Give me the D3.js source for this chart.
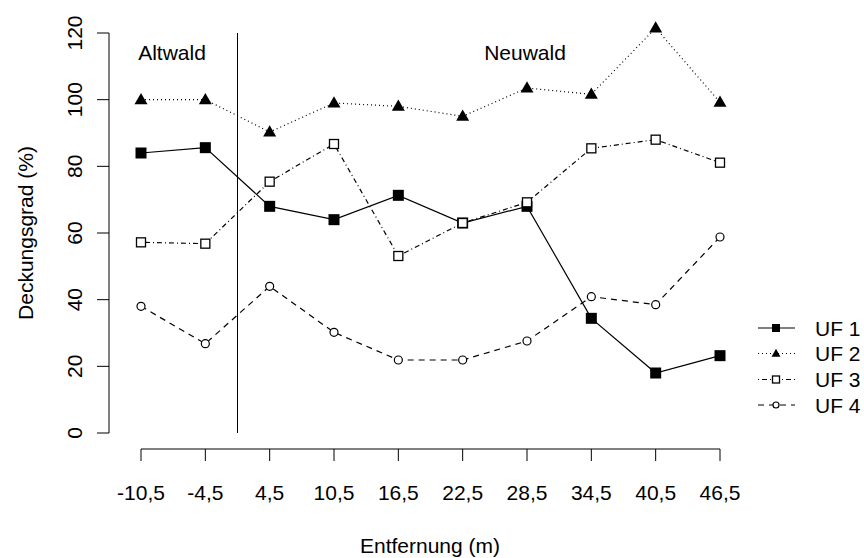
<!DOCTYPE html>
<html>
<head>
<meta charset="utf-8">
<script src="https://cdn.jsdelivr.net/npm/d3@7"></script>
<style>
body{margin:0;background:#fff;}
text{font-family:"Liberation Sans",Arial,sans-serif;fill:#000;}
</style>
</head>
<body>
<div class="chart"></div>
<script>
// Daten
var entfernung=["-10,5","-4,5","4,5","10,5","16,5","22,5","28,5","34,5","40,5","46,5"];
var uf1=[84,85.6,68,64,71.3,63,68,34.4,18,23.2];
var uf2=[100,100,90.3,99,98,95,103.5,101.6,121.5,99.2];
var uf3=[57.2,56.8,75.4,86.7,53.1,63,69.2,85.4,88,81.1];
var uf4=[38,26.8,44,30.2,21.9,21.9,27.6,40.9,38.5,58.8];
var yTicks=[0,20,40,60,80,100,120];
var serien=["UF 1","UF 2","UF 3","UF 4"];

var width=864;
var height=558;
var svg=d3.select('div.chart')
		.append('svg')
		.attr('width',width)
		.attr('height',height);

var xScale=d3.scalePoint()
		.domain(entfernung)
		.range([141,720]);
var yScale=d3.scaleLinear()
		.domain([0,120])
		.range([433,33]);

// y-Achse
svg.append('line')
	.attr('x1',109).attr('x2',109)
	.attr('y1',yScale(0)).attr('y2',yScale(120))
	.attr('stroke','#000');
svg.selectAll('.ytick')
	.data(yTicks)
	.enter()
	.append('line')
	.attr('x1',97).attr('x2',109)
	.attr('y1',d=>yScale(d)).attr('y2',d=>yScale(d))
	.attr('stroke','#000');
svg.selectAll('.ylab')
	.data(yTicks)
	.enter()
	.append('text')
	.attr('transform',d=>'translate(82,'+yScale(d)+') rotate(-90)')
	.attr('text-anchor','middle')
	.attr('font-size','21px')
	.text(d=>d);

// x-Achse
svg.append('line')
	.attr('x1',xScale(entfernung[0])).attr('x2',xScale(entfernung[entfernung.length-1]))
	.attr('y1',449).attr('y2',449)
	.attr('stroke','#000');
svg.selectAll('.xtick')
	.data(entfernung)
	.enter()
	.append('line')
	.attr('x1',d=>xScale(d)).attr('x2',d=>xScale(d))
	.attr('y1',449).attr('y2',461)
	.attr('stroke','#000');
svg.selectAll('.xlab')
	.data(entfernung)
	.enter()
	.append('text')
	.attr('x',d=>xScale(d))
	.attr('y',500)
	.attr('text-anchor','middle')
	.attr('font-size','21px')
	.text(d=>d);

// Achsentitel
svg.append('text')
	.attr('x',430)
	.attr('y',553)
	.attr('text-anchor','middle')
	.attr('font-size','21px')
	.text('Entfernung (m)');
svg.append('text')
	.attr('transform','translate(33,233) rotate(-90)')
	.attr('text-anchor','middle')
	.attr('font-size','21px')
	.text('Deckungsgrad (%)');

// Trennlinie Altwald / Neuwald
var step=xScale.step();
svg.append('line')
	.attr('x1',xScale("-4,5")+step/2).attr('x2',xScale("-4,5")+step/2)
	.attr('y1',yScale(120)).attr('y2',yScale(0))
	.attr('stroke','#000');
svg.append('text')
	.attr('x',172).attr('y',60)
	.attr('text-anchor','middle')
	.attr('font-size','21px')
	.text('Altwald');
svg.append('text')
	.attr('x',525).attr('y',60)
	.attr('text-anchor','middle')
	.attr('font-size','21px')
	.text('Neuwald');

var daten=[uf1,uf2,uf3,uf4];
var dash=[null,'1,3','1,3,5,3','6,5'];
var line=d3.line()
	.x((d,i)=>xScale(entfernung[i]))
	.y(d=>yScale(d));

daten.forEach(function(werte,k){
	svg.append('path')
		.attr('d',line(werte))
		.attr('fill','none')
		.attr('stroke','#000')
		.attr('stroke-width',1.2)
		.attr('stroke-dasharray',dash[k]);
});

function marker(g,k,x,y,s){
	if(k==0){
		g.append('rect').attr('x',x-s/2).attr('y',y-s/2).attr('width',s).attr('height',s).attr('fill','#000');
	}else if(k==1){
		var h=s*0.87;
		g.append('path').attr('d','M'+x+','+(y-h*0.6)+'L'+(x+s/2)+','+(y+h*0.4)+'L'+(x-s/2)+','+(y+h*0.4)+'Z').attr('fill','#000');
	}else if(k==2){
		g.append('rect').attr('x',x-s/2).attr('y',y-s/2).attr('width',s).attr('height',s).attr('fill','#fff').attr('stroke','#000').attr('stroke-width',1.3);
	}else{
		g.append('circle').attr('cx',x).attr('cy',y).attr('r',s/2).attr('fill','#fff').attr('stroke','#000').attr('stroke-width',1.2);
	}
}
var groesse=[11,13,9,8];
daten.forEach(function(werte,k){
	var g=svg.append('g');
	werte.forEach(function(v,i){
		marker(g,k,xScale(entfernung[i]),yScale(v),groesse[k]);
	});
});

// Legende
var legY=[328,353.5,379.5,405];
var legGr=[8,9,7,6];
serien.forEach(function(s,k){
	svg.append('line')
		.attr('x1',758).attr('x2',795)
		.attr('y1',legY[k]).attr('y2',legY[k])
		.attr('stroke','#000')
		.attr('stroke-width',1.2)
		.attr('stroke-dasharray',dash[k]);
	marker(svg,k,776,legY[k],legGr[k]);
	svg.append('text')
		.attr('x',815)
		.attr('y',legY[k]+7.5)
		.attr('font-size','21px')
		.text(s);
});
</script>
</body>
</html>
